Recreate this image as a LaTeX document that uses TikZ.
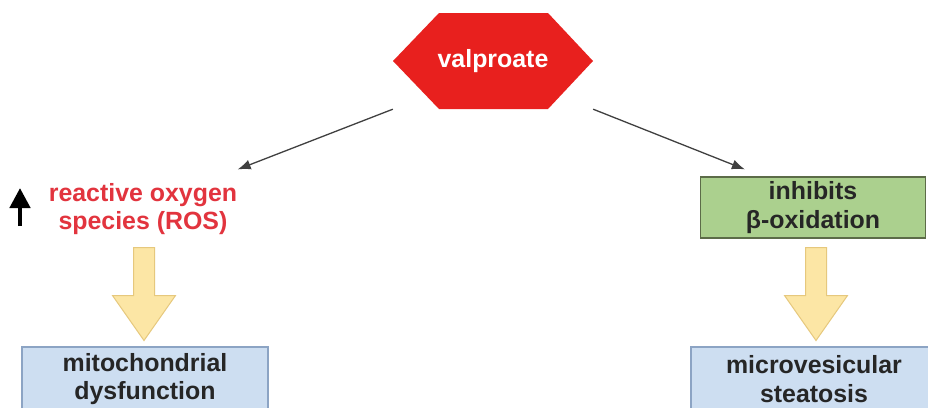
\documentclass[tikz,border=0pt]{standalone}
\usepackage{fontspec}
\setmainfont{Liberation Sans}
\usetikzlibrary{shapes.arrows,arrows.meta}

\definecolor{valred}{RGB}{232,32,30}
\definecolor{rosred}{RGB}{226,52,62}
\definecolor{oxgreen}{RGB}{171,208,142}
\definecolor{oxedge}{RGB}{92,108,72}
\definecolor{boxblue}{RGB}{205,222,241}
\definecolor{boxedge}{RGB}{140,164,196}
\definecolor{arrfill}{RGB}{252,230,165}
\definecolor{arredge}{RGB}{230,200,125}

\tikzset{
  lbl/.style={font=\fontsize{25}{29}\selectfont\bfseries, align=center, text=black!85},
  hexbox/.style={lbl, text=white, minimum width=200bp, minimum height=96bp, inner sep=0pt,
    path picture={\fill[valred] (path picture bounding box.west)
      -- ([xshift=46bp]path picture bounding box.north west)
      -- ([xshift=-45bp]path picture bounding box.north east)
      -- (path picture bounding box.east)
      -- ([xshift=-45bp]path picture bounding box.south east)
      -- ([xshift=46bp]path picture bounding box.south west) -- cycle;}},
  greenbox/.style={lbl, draw=oxedge, fill=oxgreen, line width=1.2bp, minimum width=225bp, minimum height=61bp},
  bluebox/.style={lbl, draw=boxedge, fill=boxblue, line width=1.2bp, minimum width=246bp, minimum height=64bp},
  fatarrow/.style={single arrow, draw=arredge, fill=arrfill, line width=1bp, minimum height=93bp,
    minimum width=62bp, single arrow head extend=21bp, single arrow tip angle=70,
    inner xsep=0pt, inner ysep=10bp, rotate=-90},
  link/.style={draw=black!75, line width=1.3bp, -{Latex[length=13bp,width=10bp]}}
}

\begin{document}
\begin{tikzpicture}[x=1bp,y=-1bp]
\clip (0,0) rectangle (928,407);
\fill[white] (0,0) rectangle (928,407);

\node[hexbox] (valp) at (493,61) {valproate};

\node[lbl, text=rosred] (ros) at (143,209) {reactive oxygen\\species (ROS)};
\coordinate (upbot) at (20,226);
\coordinate (uptop) at (20,188);
\draw[line width=4.5bp, -{Triangle[length=20bp,width=20bp]}] (upbot) -- (uptop);

\node[greenbox] (ox) at (813,207.5) {inhibits\\β-oxidation};

\node[bluebox] (mito) at (145,379) {mitochondrial\\dysfunction};
\node[bluebox] (steat) at (814,379) {microvesicular\\steatosis};

\node[fatarrow, anchor=tail] (a1) at (144,247) {};
\node[fatarrow, anchor=tail] (a2) at (816,247) {};

\draw[link] (valp.south west) -- ([shift={(-3,-10)}]ros.north east);
\draw[link] (valp.south east) -- ([shift={(45,-7)}]ox.north west);
\end{tikzpicture}
\end{document}
